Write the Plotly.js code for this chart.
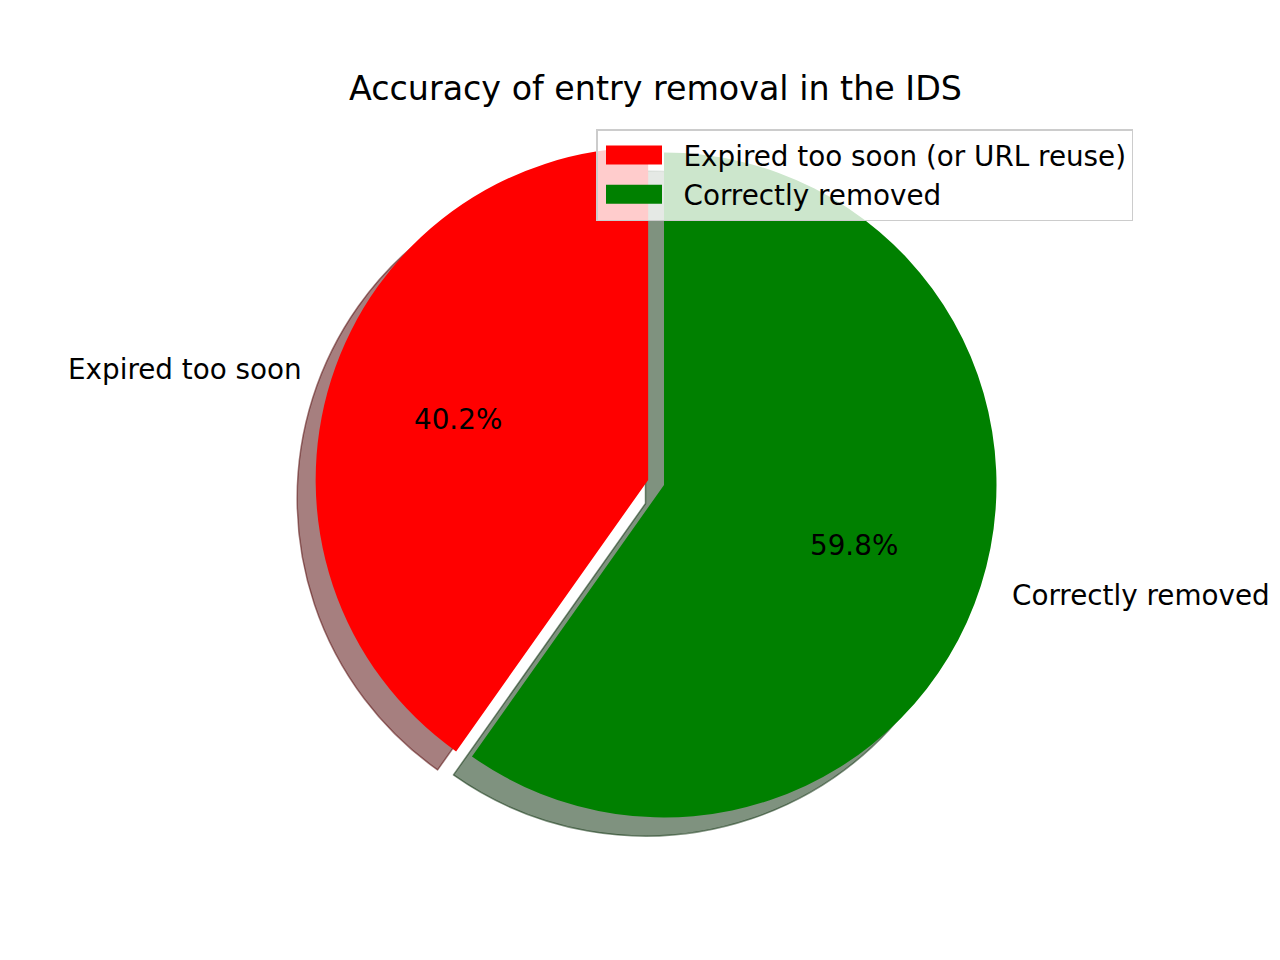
<!DOCTYPE html>
<html>
<head>
<meta charset="utf-8">
<script src="https://cdn.plot.ly/plotly-3.0.1.min.js"></script>
<style>
  body { margin: 0; background: #fff; }
  #chart { width: 1280px; height: 960px; }
</style>
</head>
<body>
<div id="chart"></div>
<script>
// data
const legendLabels = ['Expired too soon (or URL reuse)', 'Correctly removed'];
const sliceLabels = ['Expired too soon', 'Correctly removed'];
const shares = [40.2, 59.8];
const explode = [0.05, 0];
const colors = ['#ff0000', '#008000'];
const shadowColors = ['rgba(77,0,0,0.5)', 'rgba(0,38,0,0.5)'];

// figure geometry (pixels)
const W = 1280, H = 960;
const cx = 664, cy = 485, r = 332.5;
const shadowShift = 18.5;
const font = 'DejaVu Sans, sans-serif';

const maxPull = Math.max(...explode);
const half = r * (1 + maxPull);
const total = shares.reduce((a, b) => a + b, 0);

// plotly's counterclockwise pie ends the first slice at the rotation angle,
// so turn it back by the first slice to start it at 12 o'clock like matplotlib
const rot = -shares[0] / total * 360;

function domainFor(dx, dy) {
	return {
		x: [(cx + dx - half) / W, (cx + dx + half) / W],
		y: [1 - (cy + dy + half) / H, 1 - (cy + dy - half) / H],
	};
}

const shadow = {
	type: 'pie', labels: legendLabels, values: shares, pull: explode,
	sort: false, direction: 'counterclockwise', rotation: rot,
	domain: domainFor(-shadowShift, shadowShift),
	marker: {colors: shadowColors, line: {color: shadowColors, width: 1.5}},
	textinfo: 'none', hoverinfo: 'skip', showlegend: false,
};

const main = {
	type: 'pie', labels: legendLabels, values: shares, pull: explode,
	sort: false, direction: 'counterclockwise', rotation: rot,
	domain: domainFor(0, 0),
	marker: {colors: colors, line: {width: 0}},
	textinfo: 'none', hoverinfo: 'label+percent',
};

// slice labels and percentages, placed the way matplotlib does it
const annotations = [];
let start = 90;
shares.forEach((v, i) => {
	const span = v / total * 360;
	const mid = (start + span / 2) * Math.PI / 180;
	start += span;
	const ox = cx + explode[i] * r * Math.cos(mid);
	const oy = cy - explode[i] * r * Math.sin(mid);
	annotations.push({
		xref: 'paper', yref: 'paper', showarrow: false,
		x: (ox + 0.6 * r * Math.cos(mid)) / W,
		y: 1 - (oy - 0.6 * r * Math.sin(mid)) / H,
		xanchor: 'center', yanchor: 'middle',
		text: (v / total * 100).toFixed(1) + '%',
		font: {family: font, size: 27.8, color: '#000'},
	});
	const lx = ox + 1.1 * r * Math.cos(mid);
	const right = lx > cx;
	annotations.push({
		xref: 'paper', yref: 'paper', showarrow: false,
		x: lx / W,
		y: 1 - (oy - 1.1 * r * Math.sin(mid)) / H,
		xanchor: right ? 'left' : 'right', yanchor: 'middle',
		xshift: right ? -3 : 4, // eat the annotation padding
		text: sliceLabels[i],
		font: {family: font, size: 27.8, color: '#000'},
	});
});

const layout = {
	width: W, height: H,
	margin: {l: 0, r: 0, t: 0, b: 0},
	paper_bgcolor: '#fff',
	font: {family: font, color: '#000'},
	title: {
		text: 'Accuracy of entry removal in the IDS',
		font: {family: font, size: 33.3, color: '#000'},
		x: 655.5 / W, xanchor: 'center', xref: 'paper',
		y: 1 - 88 / H, yanchor: 'middle', yref: 'container',
	},
	showlegend: true,
	legend: {
		x: 596 / W, y: 1 - 129 / H, xanchor: 'left', yanchor: 'top',
		bgcolor: 'rgba(255,255,255,0.8)', bordercolor: '#cccccc', borderwidth: 1.5,
		font: {family: font, size: 27.8, color: '#000'},
		traceorder: 'normal', itemwidth: 76,
	},
	annotations: annotations,
};

Plotly.newPlot('chart', [shadow, main], layout, {displayModeBar: false}).then(gd => {
	// matplotlib-style wide legend patches
	gd.querySelectorAll('.legend .traces .legendpoints path').forEach(p => {
		p.setAttribute('d', 'M28,9.5H-28V-9.5H28Z');
		const box = p.getBoundingClientRect();
		const dx = 606 - box.left;
		const prev = p.getAttribute('transform') || '';
		p.setAttribute('transform', prev + ' translate(' + dx + ',0)');
	});
});
</script>
</body>
</html>
